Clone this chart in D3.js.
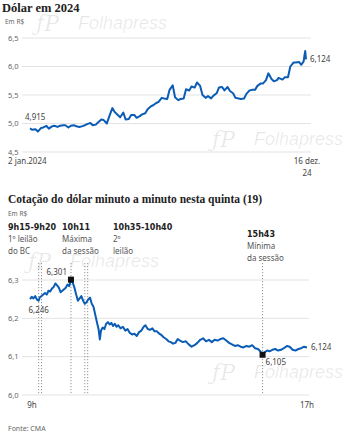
<!DOCTYPE html>
<meta charset="utf-8">
<script src="https://d3js.org/d3.v7.min.js"></script>
<style>
body { margin: 0; background: #fff; }
svg text { font-family: "Noto Sans", sans-serif; }
.title { font-family: "Liberation Serif", serif; font-weight: bold; fill: #222; }
.tick { font-size: 7.5px; fill: #666; }
.lbl { font-size: 8px; fill: #444; }
.head { font-family: "DejaVu Sans", sans-serif; font-weight: bold; font-size: 8px; fill: #222; }
.sub { font-size: 8px; fill: #555; }
.wm { font-family: "Liberation Sans", sans-serif; font-style: italic; font-size: 18px; fill: #000; fill-opacity: 0.09; pointer-events: none; }
</style>
<div id="chart"></div>
<script>
// ---- data ----
const yearDates = ["2024-01-02","2024-01-05","2024-01-09","2024-01-12","2024-01-16","2024-01-19","2024-01-23","2024-01-26","2024-01-30",
  "2024-02-02","2024-02-06","2024-02-09","2024-02-14","2024-02-16","2024-02-20","2024-02-23","2024-02-27",
  "2024-03-01","2024-03-05","2024-03-08","2024-03-12","2024-03-15","2024-03-19","2024-03-22","2024-03-26","2024-03-28",
  "2024-04-02","2024-04-05","2024-04-09","2024-04-12","2024-04-16","2024-04-19","2024-04-23","2024-04-26","2024-04-30",
  "2024-05-03","2024-05-07","2024-05-10","2024-05-14","2024-05-17","2024-05-21","2024-05-24","2024-05-28","2024-05-31",
  "2024-06-04","2024-06-07","2024-06-11","2024-06-14","2024-06-18","2024-06-21","2024-06-25","2024-06-28",
  "2024-07-02","2024-07-05","2024-07-09","2024-07-12","2024-07-16","2024-07-19","2024-07-23","2024-07-26","2024-07-30",
  "2024-08-02","2024-08-06","2024-08-09","2024-08-13","2024-08-16","2024-08-20","2024-08-23","2024-08-27","2024-08-30",
  "2024-09-03","2024-09-06","2024-09-10","2024-09-13","2024-09-17","2024-09-20","2024-09-24","2024-09-27",
  "2024-10-01","2024-10-04","2024-10-08","2024-10-11","2024-10-15","2024-10-18","2024-10-22","2024-10-25","2024-10-29",
  "2024-11-01","2024-11-05","2024-11-08","2024-11-12","2024-11-14","2024-11-19","2024-11-22","2024-11-26","2024-11-29",
  "2024-12-03","2024-12-06","2024-12-10","2024-12-13","2024-12-16","2024-12-17","2024-12-18","2024-12-19"];
const yearValues = [4.915,4.89,4.90,4.86,4.92,4.93,4.96,4.91,4.95,
  4.96,4.94,4.96,4.97,4.97,4.93,4.96,4.97,
  4.95,4.94,4.95,4.97,4.99,5.01,4.97,4.98,5.01,
  5.07,5.06,5.00,5.12,5.27,5.20,5.15,5.11,5.19,
  5.07,5.08,5.15,5.15,5.10,5.13,5.16,5.18,5.25,
  5.30,5.32,5.36,5.38,5.45,5.44,5.43,5.59,
  5.67,5.46,5.41,5.43,5.44,5.60,5.58,5.65,5.63,
  5.72,5.66,5.50,5.45,5.48,5.44,5.49,5.53,5.63,
  5.64,5.58,5.64,5.57,5.53,5.45,5.44,5.43,
  5.44,5.52,5.58,5.59,5.59,5.66,5.70,5.70,5.76,
  5.88,5.78,5.74,5.76,5.80,5.77,5.81,5.81,6.00,
  6.07,6.07,6.08,6.03,6.09,6.19,6.27,6.124];
const yearTicks = [4.5, 5.0, 5.5, 6.0, 6.5];

const dayTimes = ["9:00","9:03","9:06","9:09","9:12","9:15","9:17","9:20","9:23","9:26","9:29","9:32","9:35","9:38","9:41","9:44","9:47","9:50","9:53","9:56","9:59",
  "10:02","10:05","10:08","10:11","10:14","10:17","10:20","10:23","10:26","10:29","10:32","10:35","10:38","10:41","10:44","10:47","10:50","10:53","10:56","10:59",
  "11:01","11:03","11:06","11:09","11:12","11:15","11:18","11:21","11:24","11:27","11:30","11:33","11:37","11:41","11:45","11:49","11:53","11:57",
  "12:01","12:05","12:09","12:13","12:17","12:20","12:24","12:28","12:32","12:36","12:40","12:44","12:48","12:52","12:56",
  "13:00","13:04","13:08","13:12","13:16","13:20","13:25","13:30","13:35","13:40","13:45","13:50","13:55",
  "14:00","14:05","14:10","14:15","14:20","14:25","14:30","14:35","14:40","14:45","14:50","14:55",
  "15:00","15:05","15:10","15:15","15:20","15:25","15:30","15:35","15:39","15:43","15:47","15:51","15:55",
  "16:00","16:05","16:10","16:15","16:20","16:25","16:30","16:35","16:40","16:45","16:50","16:55","17:00"];
const dayValues = [6.250,6.256,6.252,6.258,6.249,6.246,6.255,6.258,6.262,6.266,6.262,6.272,6.270,6.278,6.282,6.291,6.286,6.280,6.268,6.272,6.276,
  6.280,6.288,6.284,6.301,6.293,6.280,6.262,6.246,6.252,6.258,6.246,6.238,6.242,6.250,6.254,6.238,6.230,6.210,6.190,6.170,
  6.145,6.168,6.176,6.172,6.186,6.190,6.184,6.188,6.180,6.186,6.178,6.182,6.174,6.178,6.168,6.172,6.162,6.158,
  6.160,6.154,6.164,6.168,6.178,6.182,6.172,6.170,6.174,6.166,6.166,6.160,6.156,6.150,6.146,
  6.140,6.138,6.134,6.136,6.146,6.142,6.138,6.140,6.132,6.126,6.130,6.136,6.144,
  6.148,6.140,6.144,6.138,6.144,6.142,6.146,6.148,6.142,6.136,6.132,6.128,
  6.130,6.126,6.124,6.128,6.126,6.130,6.122,6.120,6.114,6.105,6.112,6.116,6.114,
  6.118,6.120,6.116,6.118,6.122,6.128,6.126,6.118,6.116,6.120,6.122,6.126,6.124];
const dayTicks = [6.0, 6.1, 6.2, 6.3];

const noteHeads = ["9h15-9h20", "10h11", "10h35-10h40", "15h43"];
const noteLines = [["1º leilão", "do BC"], ["Máxima", "da sessão"], ["2º", "leilão"], ["Mínima", "da sessão"]];
const noteTimes = ["9:15", "9:20", "10:11", "10:35", "10:40", "15:43"];

// ---- setup ----
const W = 345, H = 436;
const svg = d3.select('#chart').append('svg').attr('width', W).attr('height', H);
const fmt = d3.format(',.1f');
const br = v => fmt(v).replace('.', ',');
const br3 = v => d3.format('.3f')(v).replace('.', ',');
const parseDate = d3.timeParse('%Y-%m-%d');
const parseTime = d3.timeParse('%H:%M');

// watermarks (faint, behind everything)
const wm = svg.append('g');
[[78, 29], [254, 145], [70, 267], [254, 378]].forEach(p => {
	wm.append('text').attr('class', 'wm').attr('x', p[0]).attr('y', p[1]).text('Folhapress');
	wm.append('text').attr('class', 'wm').attr('x', p[0] - 42).attr('y', p[1] + 2)
		.style('font-size', '22px').style('font-family', 'DejaVu Serif').text('ƒP');
});

// ---- chart 1 ----
svg.append('text').attr('class', 'title').attr('x', 2).attr('y', 12).style('font-size', '12.5px').text('Dólar em 2024');
svg.append('text').attr('class', 'tick').attr('x', 5).attr('y', 24).style('font-size', '6.5px').text('Em R$');

const x1 = d3.scaleTime().domain([parseDate(yearDates[0]), parseDate(yearDates[yearDates.length - 1])]).range([30, 306]);
const y1 = d3.scaleLinear().domain([4.5, 6.5]).range([152, 38]);

const g1 = svg.append('g');
g1.selectAll('line.grid').data(yearTicks).join('line')
	.attr('x1', 22).attr('x2', 311)
	.attr('y1', d => y1(d)).attr('y2', d => y1(d))
	.attr('stroke', '#e3e3e3').attr('stroke-width', 1);
g1.selectAll('text.yt').data(yearTicks).join('text')
	.attr('class', 'tick').attr('x', 8).attr('y', d => y1(d) + 2.5).text(d => br(d));

const year = yearDates.map((d, i) => ({date: parseDate(d), value: yearValues[i]}));
g1.append('path').datum(year)
	.attr('fill', 'none').attr('stroke', '#0b5cb5').attr('stroke-width', 2).attr('stroke-linejoin', 'round')
	.attr('d', d3.line().x(d => x1(d.date)).y(d => y1(d.value)));

g1.append('text').attr('class', 'lbl').attr('x', x1(year[0].date) - 5).attr('y', y1(year[0].value) - 8).text(br3(year[0].value));
const yl = year[year.length - 1];
g1.append('text').attr('class', 'lbl').attr('x', x1(yl.date) + 4).attr('y', y1(yl.value) + 3).text(br3(yl.value));

g1.append('text').attr('class', 'lbl').attr('x', 8).attr('y', 164).text('2 jan.2024');
g1.append('text').attr('class', 'lbl').attr('x', 307).attr('y', 164).attr('text-anchor', 'middle').text('16 dez.');
g1.append('text').attr('class', 'lbl').attr('x', 307).attr('y', 176).attr('text-anchor', 'middle').text('24');

// ---- chart 2 ----
svg.append('text').attr('class', 'title').attr('x', 8).attr('y', 203).style('font-size', '11.5px')
	.text('Cotação do dólar minuto a minuto nesta quinta (19)');
svg.append('text').attr('class', 'tick').attr('x', 8).attr('y', 216).style('font-size', '6.5px').text('Em R$');

const x2 = d3.scaleTime().domain([parseTime('9:00'), parseTime('17:00')]).range([30, 307]);
const y2 = d3.scaleLinear().domain([6.0, 6.3]).range([395, 280]);

const g2 = svg.append('g');
g2.selectAll('line.grid').data(dayTicks).join('line')
	.attr('x1', 22).attr('x2', 309)
	.attr('y1', d => y2(d)).attr('y2', d => y2(d))
	.attr('stroke', '#e3e3e3').attr('stroke-width', 1);
g2.selectAll('text.yt').data(dayTicks).join('text')
	.attr('class', 'tick').attr('x', 8).attr('y', d => y2(d) + 2.5).text(d => br(d));

// annotation dotted lines
g2.selectAll('line.note').data(noteTimes).join('line')
	.attr('x1', d => x2(parseTime(d))).attr('x2', d => x2(parseTime(d)))
	.attr('y1', 263).attr('y2', 395)
	.attr('stroke', '#777').attr('stroke-width', 0.8).attr('stroke-dasharray', '1.2,1.8');

// annotation texts
const headX = [8, 62, 113, 247];
const headY = [230, 230, 230, 237];
noteHeads.forEach((h, i) => {
	g2.append('text').attr('class', 'head').attr('x', headX[i]).attr('y', headY[i]).text(h);
	noteLines[i].forEach((s, j) => {
		g2.append('text').attr('class', 'sub').attr('x', headX[i]).attr('y', headY[i] + 12 + j * 11.5).text(s);
	});
});

const day = dayTimes.map((t, i) => ({time: parseTime(t), value: dayValues[i]}));
g2.append('path').datum(day)
	.attr('fill', 'none').attr('stroke', '#0b5cb5').attr('stroke-width', 2).attr('stroke-linejoin', 'round')
	.attr('d', d3.line().x(d => x2(d.time)).y(d => y2(d.value)));

const hi = day[d3.maxIndex(day, d => d.value)];
const lo = day[d3.minIndex(day, d => d.value)];
g2.selectAll('rect.mk').data([hi, lo]).join('rect')
	.attr('x', d => x2(d.time) - 3).attr('y', d => y2(d.value) - 3)
	.attr('width', 6).attr('height', 6).attr('fill', '#111');
g2.append('text').attr('class', 'lbl').attr('x', x2(hi.time) - 4).attr('y', y2(hi.value) - 5)
	.attr('text-anchor', 'end').text(br3(hi.value));
g2.append('text').attr('class', 'lbl').attr('x', x2(lo.time) + 3).attr('y', y2(lo.value) + 10).text(br3(lo.value));
const early = day.find(d => d.time.getTime() === parseTime('9:15').getTime());
g2.append('text').attr('class', 'lbl').attr('x', x2(early.time)).attr('y', y2(early.value) + 12)
	.attr('text-anchor', 'middle').text(br3(early.value));
const dl = day[day.length - 1];
g2.append('text').attr('class', 'lbl').attr('x', x2(dl.time) + 4).attr('y', y2(dl.value) + 3).text(br3(dl.value));

g2.append('text').attr('class', 'lbl').attr('x', x2(parseTime('9:00')) + 2).attr('y', 408).attr('text-anchor', 'middle').text('9h');
g2.append('text').attr('class', 'lbl').attr('x', x2(parseTime('17:00'))).attr('y', 408).attr('text-anchor', 'middle').text('17h');

svg.append('text').attr('class', 'tick').attr('x', 8).attr('y', 431).style('font-size', '7px').text('Fonte: CMA');
</script>
